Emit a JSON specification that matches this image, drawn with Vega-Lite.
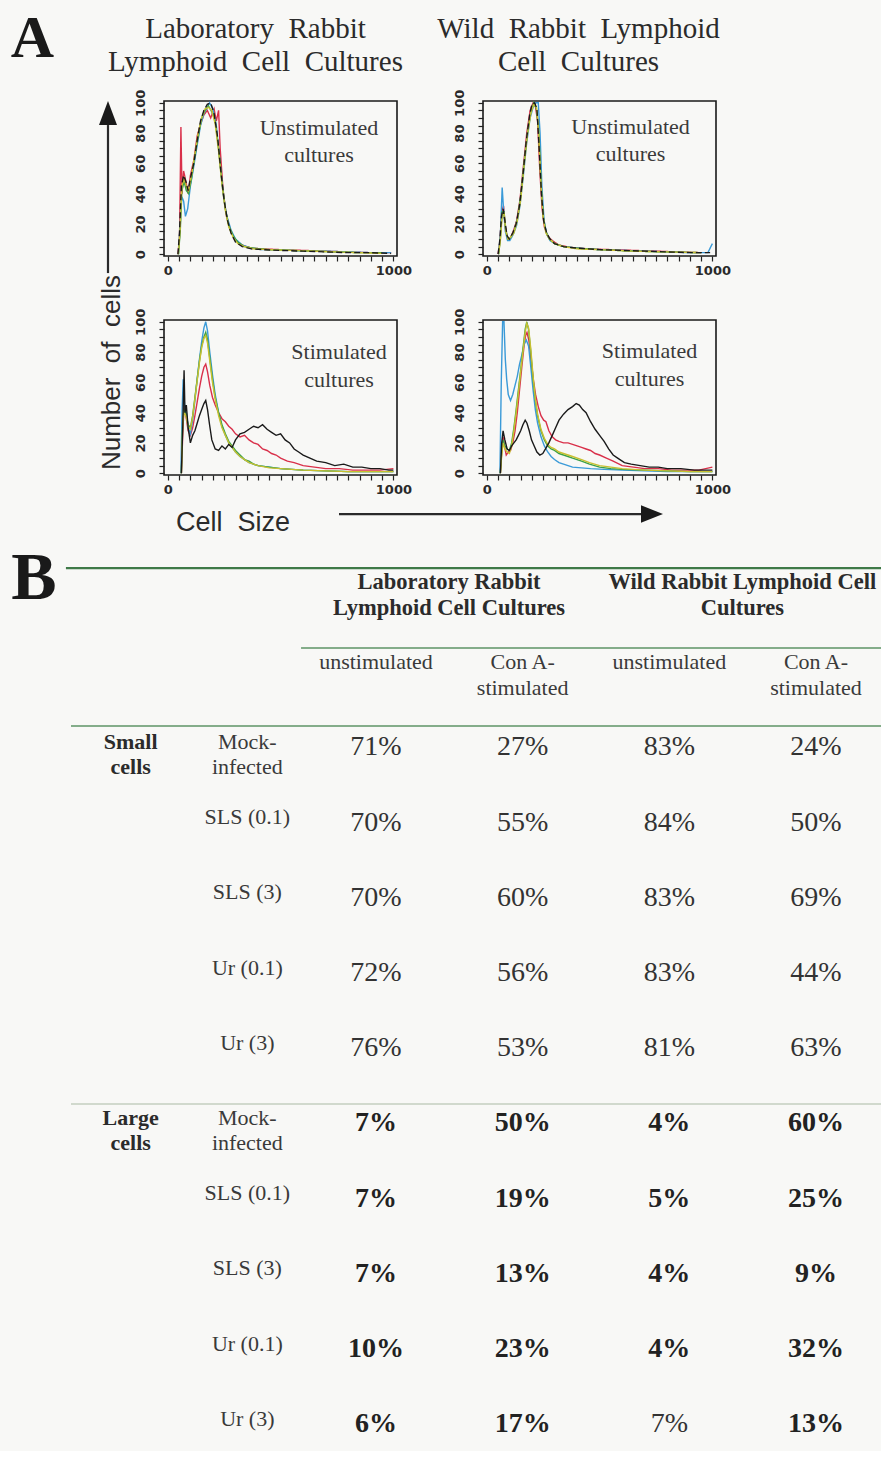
{
"$schema": "https://vega.github.io/schema/vega-lite/v6.json",
"background": "#f8f8f6",
"padding": {"left": 10, "top": 8, "right": 0, "bottom": 0},
"columns": 2,
"spacing": {"row": 64, "column": 86},
"bounds": "flush",
"config": {
  "view": {"stroke": "#1a1a1a", "strokeWidth": 1.6},
  "axis": {"grid": false, "domain": false, "tickColor": "#222", "tickWidth": 1.2, "tickSize": 5, "labelFont": "DejaVu Sans", "labelFontSize": 13, "labelFontWeight": "bold", "labelColor": "#2a2a2a"},
  "text": {"font": "Liberation Serif", "color": "#2b2b2b"}
},
"datasets": {
"h": [
{"p":"TL","s":"A","x":45,"y":0},{"p":"TL","s":"A","x":52,"y":12},{"p":"TL","s":"A","x":58,"y":84},{"p":"TL","s":"A","x":63,"y":40},{"p":"TL","s":"A","x":70,"y":55},{"p":"TL","s":"A","x":80,"y":48},{"p":"TL","s":"A","x":90,"y":40},{"p":"TL","s":"A","x":100,"y":52},{"p":"TL","s":"A","x":115,"y":62},{"p":"TL","s":"A","x":130,"y":78},{"p":"TL","s":"A","x":145,"y":86},{"p":"TL","s":"A","x":160,"y":92},{"p":"TL","s":"A","x":175,"y":95},{"p":"TL","s":"A","x":190,"y":90},{"p":"TL","s":"A","x":205,"y":96},{"p":"TL","s":"A","x":215,"y":88},{"p":"TL","s":"A","x":225,"y":95},{"p":"TL","s":"A","x":232,"y":70},{"p":"TL","s":"A","x":245,"y":42},{"p":"TL","s":"A","x":260,"y":25},{"p":"TL","s":"A","x":280,"y":15},{"p":"TL","s":"A","x":300,"y":9},{"p":"TL","s":"A","x":330,"y":6},{"p":"TL","s":"A","x":370,"y":4},{"p":"TL","s":"A","x":420,"y":3.5},{"p":"TL","s":"A","x":500,"y":3},{"p":"TL","s":"A","x":600,"y":2.5},{"p":"TL","s":"A","x":700,"y":2},{"p":"TL","s":"A","x":800,"y":1.5},{"p":"TL","s":"A","x":900,"y":1},{"p":"TL","s":"A","x":990,"y":1},
{"p":"TL","s":"B","x":47,"y":0},{"p":"TL","s":"B","x":55,"y":20},{"p":"TL","s":"B","x":62,"y":38},{"p":"TL","s":"B","x":70,"y":35},{"p":"TL","s":"B","x":78,"y":25},{"p":"TL","s":"B","x":88,"y":30},{"p":"TL","s":"B","x":100,"y":45},{"p":"TL","s":"B","x":115,"y":58},{"p":"TL","s":"B","x":130,"y":72},{"p":"TL","s":"B","x":145,"y":85},{"p":"TL","s":"B","x":160,"y":93},{"p":"TL","s":"B","x":175,"y":97},{"p":"TL","s":"B","x":185,"y":100},{"p":"TL","s":"B","x":200,"y":96},{"p":"TL","s":"B","x":215,"y":85},{"p":"TL","s":"B","x":230,"y":62},{"p":"TL","s":"B","x":245,"y":40},{"p":"TL","s":"B","x":260,"y":26},{"p":"TL","s":"B","x":280,"y":16},{"p":"TL","s":"B","x":300,"y":10},{"p":"TL","s":"B","x":330,"y":6},{"p":"TL","s":"B","x":370,"y":4},{"p":"TL","s":"B","x":420,"y":3},{"p":"TL","s":"B","x":500,"y":3},{"p":"TL","s":"B","x":600,"y":2},{"p":"TL","s":"B","x":700,"y":2},{"p":"TL","s":"B","x":800,"y":1.5},{"p":"TL","s":"B","x":900,"y":1},{"p":"TL","s":"B","x":990,"y":1},
{"p":"TL","s":"C","x":47,"y":0},{"p":"TL","s":"C","x":55,"y":15},{"p":"TL","s":"C","x":62,"y":42},{"p":"TL","s":"C","x":72,"y":48},{"p":"TL","s":"C","x":82,"y":42},{"p":"TL","s":"C","x":92,"y":40},{"p":"TL","s":"C","x":105,"y":50},{"p":"TL","s":"C","x":120,"y":65},{"p":"TL","s":"C","x":135,"y":78},{"p":"TL","s":"C","x":150,"y":90},{"p":"TL","s":"C","x":165,"y":95},{"p":"TL","s":"C","x":180,"y":98},{"p":"TL","s":"C","x":195,"y":94},{"p":"TL","s":"C","x":210,"y":88},{"p":"TL","s":"C","x":225,"y":70},{"p":"TL","s":"C","x":240,"y":48},{"p":"TL","s":"C","x":255,"y":30},{"p":"TL","s":"C","x":270,"y":19},{"p":"TL","s":"C","x":290,"y":12},{"p":"TL","s":"C","x":310,"y":8},{"p":"TL","s":"C","x":340,"y":5},{"p":"TL","s":"C","x":380,"y":4},{"p":"TL","s":"C","x":450,"y":3},{"p":"TL","s":"C","x":550,"y":2.5},{"p":"TL","s":"C","x":650,"y":2},{"p":"TL","s":"C","x":750,"y":1.5},{"p":"TL","s":"C","x":850,"y":1},{"p":"TL","s":"C","x":950,"y":1},
{"p":"TL","s":"D","x":47,"y":0},{"p":"TL","s":"D","x":55,"y":18},{"p":"TL","s":"D","x":62,"y":45},{"p":"TL","s":"D","x":72,"y":50},{"p":"TL","s":"D","x":82,"y":45},{"p":"TL","s":"D","x":92,"y":42},{"p":"TL","s":"D","x":105,"y":52},{"p":"TL","s":"D","x":120,"y":66},{"p":"TL","s":"D","x":135,"y":80},{"p":"TL","s":"D","x":150,"y":90},{"p":"TL","s":"D","x":165,"y":96},{"p":"TL","s":"D","x":180,"y":97},{"p":"TL","s":"D","x":195,"y":95},{"p":"TL","s":"D","x":210,"y":86},{"p":"TL","s":"D","x":225,"y":68},{"p":"TL","s":"D","x":240,"y":46},{"p":"TL","s":"D","x":255,"y":29},{"p":"TL","s":"D","x":270,"y":18},{"p":"TL","s":"D","x":290,"y":11},{"p":"TL","s":"D","x":310,"y":7},{"p":"TL","s":"D","x":340,"y":5},{"p":"TL","s":"D","x":380,"y":3.5},{"p":"TL","s":"D","x":450,"y":3},{"p":"TL","s":"D","x":550,"y":2.5},{"p":"TL","s":"D","x":650,"y":2},{"p":"TL","s":"D","x":750,"y":1.5},{"p":"TL","s":"D","x":850,"y":1},{"p":"TL","s":"D","x":950,"y":0.5},
{"p":"TL","s":"M","x":45,"y":0},{"p":"TL","s":"M","x":52,"y":15},{"p":"TL","s":"M","x":60,"y":45},{"p":"TL","s":"M","x":70,"y":52},{"p":"TL","s":"M","x":80,"y":48},{"p":"TL","s":"M","x":90,"y":42},{"p":"TL","s":"M","x":100,"y":50},{"p":"TL","s":"M","x":115,"y":60},{"p":"TL","s":"M","x":130,"y":75},{"p":"TL","s":"M","x":145,"y":88},{"p":"TL","s":"M","x":160,"y":95},{"p":"TL","s":"M","x":175,"y":99},{"p":"TL","s":"M","x":190,"y":100},{"p":"TL","s":"M","x":205,"y":93},{"p":"TL","s":"M","x":220,"y":78},{"p":"TL","s":"M","x":235,"y":55},{"p":"TL","s":"M","x":250,"y":35},{"p":"TL","s":"M","x":265,"y":22},{"p":"TL","s":"M","x":280,"y":14},{"p":"TL","s":"M","x":300,"y":8},{"p":"TL","s":"M","x":330,"y":5},{"p":"TL","s":"M","x":370,"y":3.5},{"p":"TL","s":"M","x":420,"y":3},{"p":"TL","s":"M","x":500,"y":2.5},{"p":"TL","s":"M","x":600,"y":2},{"p":"TL","s":"M","x":700,"y":1.5},{"p":"TL","s":"M","x":800,"y":1},{"p":"TL","s":"M","x":900,"y":1},{"p":"TL","s":"M","x":990,"y":0.5},

{"p":"TR","s":"A","x":50,"y":0},{"p":"TR","s":"A","x":58,"y":8},{"p":"TR","s":"A","x":66,"y":28},{"p":"TR","s":"A","x":74,"y":32},{"p":"TR","s":"A","x":82,"y":18},{"p":"TR","s":"A","x":92,"y":10},{"p":"TR","s":"A","x":102,"y":10},{"p":"TR","s":"A","x":117,"y":15},{"p":"TR","s":"A","x":132,"y":22},{"p":"TR","s":"A","x":147,"y":36},{"p":"TR","s":"A","x":162,"y":58},{"p":"TR","s":"A","x":177,"y":80},{"p":"TR","s":"A","x":192,"y":95},{"p":"TR","s":"A","x":205,"y":100},{"p":"TR","s":"A","x":215,"y":98},{"p":"TR","s":"A","x":225,"y":88},{"p":"TR","s":"A","x":235,"y":55},{"p":"TR","s":"A","x":245,"y":30},{"p":"TR","s":"A","x":255,"y":18},{"p":"TR","s":"A","x":270,"y":12},{"p":"TR","s":"A","x":290,"y":9},{"p":"TR","s":"A","x":320,"y":6},{"p":"TR","s":"A","x":370,"y":4.5},{"p":"TR","s":"A","x":450,"y":3.5},{"p":"TR","s":"A","x":550,"y":3},{"p":"TR","s":"A","x":650,"y":2.5},{"p":"TR","s":"A","x":750,"y":2},{"p":"TR","s":"A","x":850,"y":1.5},{"p":"TR","s":"A","x":950,"y":1},
{"p":"TR","s":"B","x":52,"y":0},{"p":"TR","s":"B","x":60,"y":12},{"p":"TR","s":"B","x":68,"y":44},{"p":"TR","s":"B","x":74,"y":30},{"p":"TR","s":"B","x":82,"y":15},{"p":"TR","s":"B","x":92,"y":9},{"p":"TR","s":"B","x":102,"y":9},{"p":"TR","s":"B","x":117,"y":13},{"p":"TR","s":"B","x":132,"y":19},{"p":"TR","s":"B","x":147,"y":32},{"p":"TR","s":"B","x":162,"y":52},{"p":"TR","s":"B","x":177,"y":74},{"p":"TR","s":"B","x":192,"y":90},{"p":"TR","s":"B","x":205,"y":97},{"p":"TR","s":"B","x":218,"y":100},{"p":"TR","s":"B","x":228,"y":100},{"p":"TR","s":"B","x":236,"y":80},{"p":"TR","s":"B","x":244,"y":45},{"p":"TR","s":"B","x":254,"y":22},{"p":"TR","s":"B","x":266,"y":13},{"p":"TR","s":"B","x":280,"y":9},{"p":"TR","s":"B","x":300,"y":7},{"p":"TR","s":"B","x":340,"y":5},{"p":"TR","s":"B","x":400,"y":4},{"p":"TR","s":"B","x":500,"y":3},{"p":"TR","s":"B","x":600,"y":2.5},{"p":"TR","s":"B","x":700,"y":2},{"p":"TR","s":"B","x":800,"y":1.5},{"p":"TR","s":"B","x":900,"y":1},{"p":"TR","s":"B","x":980,"y":1},{"p":"TR","s":"B","x":1000,"y":7},
{"p":"TR","s":"C","x":52,"y":0},{"p":"TR","s":"C","x":60,"y":10},{"p":"TR","s":"C","x":68,"y":28},{"p":"TR","s":"C","x":76,"y":28},{"p":"TR","s":"C","x":84,"y":16},{"p":"TR","s":"C","x":94,"y":10},{"p":"TR","s":"C","x":105,"y":11},{"p":"TR","s":"C","x":120,"y":15},{"p":"TR","s":"C","x":135,"y":23},{"p":"TR","s":"C","x":150,"y":38},{"p":"TR","s":"C","x":165,"y":60},{"p":"TR","s":"C","x":180,"y":80},{"p":"TR","s":"C","x":195,"y":94},{"p":"TR","s":"C","x":208,"y":100},{"p":"TR","s":"C","x":220,"y":96},{"p":"TR","s":"C","x":230,"y":82},{"p":"TR","s":"C","x":240,"y":48},{"p":"TR","s":"C","x":250,"y":25},{"p":"TR","s":"C","x":262,"y":15},{"p":"TR","s":"C","x":278,"y":10},{"p":"TR","s":"C","x":300,"y":7},{"p":"TR","s":"C","x":340,"y":5},{"p":"TR","s":"C","x":400,"y":4},{"p":"TR","s":"C","x":500,"y":3},{"p":"TR","s":"C","x":650,"y":2},{"p":"TR","s":"C","x":800,"y":1.5},{"p":"TR","s":"C","x":950,"y":1},
{"p":"TR","s":"D","x":52,"y":0},{"p":"TR","s":"D","x":60,"y":9},{"p":"TR","s":"D","x":68,"y":26},{"p":"TR","s":"D","x":76,"y":27},{"p":"TR","s":"D","x":84,"y":15},{"p":"TR","s":"D","x":94,"y":10},{"p":"TR","s":"D","x":105,"y":11},{"p":"TR","s":"D","x":120,"y":14},{"p":"TR","s":"D","x":135,"y":22},{"p":"TR","s":"D","x":150,"y":36},{"p":"TR","s":"D","x":165,"y":58},{"p":"TR","s":"D","x":180,"y":79},{"p":"TR","s":"D","x":195,"y":93},{"p":"TR","s":"D","x":208,"y":99},{"p":"TR","s":"D","x":220,"y":97},{"p":"TR","s":"D","x":230,"y":80},{"p":"TR","s":"D","x":240,"y":46},{"p":"TR","s":"D","x":250,"y":24},{"p":"TR","s":"D","x":262,"y":14},{"p":"TR","s":"D","x":278,"y":10},{"p":"TR","s":"D","x":300,"y":7},{"p":"TR","s":"D","x":340,"y":5},{"p":"TR","s":"D","x":400,"y":3.5},{"p":"TR","s":"D","x":500,"y":3},{"p":"TR","s":"D","x":650,"y":2},{"p":"TR","s":"D","x":800,"y":1.5},{"p":"TR","s":"D","x":950,"y":1},
{"p":"TR","s":"M","x":50,"y":0},{"p":"TR","s":"M","x":58,"y":10},{"p":"TR","s":"M","x":65,"y":25},{"p":"TR","s":"M","x":72,"y":30},{"p":"TR","s":"M","x":80,"y":22},{"p":"TR","s":"M","x":90,"y":12},{"p":"TR","s":"M","x":100,"y":10},{"p":"TR","s":"M","x":115,"y":14},{"p":"TR","s":"M","x":130,"y":20},{"p":"TR","s":"M","x":145,"y":32},{"p":"TR","s":"M","x":160,"y":52},{"p":"TR","s":"M","x":175,"y":75},{"p":"TR","s":"M","x":190,"y":92},{"p":"TR","s":"M","x":200,"y":99},{"p":"TR","s":"M","x":212,"y":100},{"p":"TR","s":"M","x":222,"y":96},{"p":"TR","s":"M","x":232,"y":70},{"p":"TR","s":"M","x":242,"y":40},{"p":"TR","s":"M","x":252,"y":22},{"p":"TR","s":"M","x":265,"y":14},{"p":"TR","s":"M","x":280,"y":10},{"p":"TR","s":"M","x":300,"y":7},{"p":"TR","s":"M","x":340,"y":5},{"p":"TR","s":"M","x":400,"y":4},{"p":"TR","s":"M","x":500,"y":3},{"p":"TR","s":"M","x":600,"y":2.5},{"p":"TR","s":"M","x":700,"y":2},{"p":"TR","s":"M","x":800,"y":1.5},{"p":"TR","s":"M","x":900,"y":1},{"p":"TR","s":"M","x":990,"y":1},

{"p":"BL","s":"A","x":60,"y":0},{"p":"BL","s":"A","x":66,"y":25},{"p":"BL","s":"A","x":72,"y":45},{"p":"BL","s":"A","x":80,"y":38},{"p":"BL","s":"A","x":90,"y":28},{"p":"BL","s":"A","x":100,"y":25},{"p":"BL","s":"A","x":110,"y":30},{"p":"BL","s":"A","x":120,"y":38},{"p":"BL","s":"A","x":130,"y":47},{"p":"BL","s":"A","x":140,"y":56},{"p":"BL","s":"A","x":150,"y":64},{"p":"BL","s":"A","x":160,"y":70},{"p":"BL","s":"A","x":168,"y":72},{"p":"BL","s":"A","x":176,"y":67},{"p":"BL","s":"A","x":186,"y":58},{"p":"BL","s":"A","x":198,"y":50},{"p":"BL","s":"A","x":210,"y":45},{"p":"BL","s":"A","x":225,"y":40},{"p":"BL","s":"A","x":240,"y":36},{"p":"BL","s":"A","x":255,"y":34},{"p":"BL","s":"A","x":270,"y":31},{"p":"BL","s":"A","x":285,"y":29},{"p":"BL","s":"A","x":300,"y":26},{"p":"BL","s":"A","x":320,"y":24},{"p":"BL","s":"A","x":340,"y":25},{"p":"BL","s":"A","x":360,"y":22},{"p":"BL","s":"A","x":380,"y":20},{"p":"BL","s":"A","x":400,"y":19},{"p":"BL","s":"A","x":420,"y":16},{"p":"BL","s":"A","x":440,"y":15},{"p":"BL","s":"A","x":460,"y":13},{"p":"BL","s":"A","x":480,"y":12},{"p":"BL","s":"A","x":500,"y":10},{"p":"BL","s":"A","x":530,"y":8},{"p":"BL","s":"A","x":560,"y":7},{"p":"BL","s":"A","x":600,"y":5},{"p":"BL","s":"A","x":650,"y":4},{"p":"BL","s":"A","x":700,"y":3},{"p":"BL","s":"A","x":760,"y":3},{"p":"BL","s":"A","x":820,"y":2},{"p":"BL","s":"A","x":880,"y":2},{"p":"BL","s":"A","x":940,"y":2},{"p":"BL","s":"A","x":1000,"y":3},
{"p":"BL","s":"B","x":58,"y":0},{"p":"BL","s":"B","x":63,"y":40},{"p":"BL","s":"B","x":68,"y":62},{"p":"BL","s":"B","x":74,"y":45},{"p":"BL","s":"B","x":82,"y":40},{"p":"BL","s":"B","x":90,"y":30},{"p":"BL","s":"B","x":100,"y":26},{"p":"BL","s":"B","x":110,"y":35},{"p":"BL","s":"B","x":120,"y":48},{"p":"BL","s":"B","x":130,"y":62},{"p":"BL","s":"B","x":140,"y":75},{"p":"BL","s":"B","x":150,"y":87},{"p":"BL","s":"B","x":160,"y":96},{"p":"BL","s":"B","x":168,"y":100},{"p":"BL","s":"B","x":176,"y":94},{"p":"BL","s":"B","x":186,"y":80},{"p":"BL","s":"B","x":198,"y":65},{"p":"BL","s":"B","x":210,"y":52},{"p":"BL","s":"B","x":225,"y":40},{"p":"BL","s":"B","x":240,"y":31},{"p":"BL","s":"B","x":255,"y":25},{"p":"BL","s":"B","x":270,"y":20},{"p":"BL","s":"B","x":285,"y":17},{"p":"BL","s":"B","x":300,"y":14},{"p":"BL","s":"B","x":320,"y":11},{"p":"BL","s":"B","x":340,"y":9},{"p":"BL","s":"B","x":360,"y":7},{"p":"BL","s":"B","x":380,"y":6},{"p":"BL","s":"B","x":400,"y":5},{"p":"BL","s":"B","x":450,"y":4},{"p":"BL","s":"B","x":500,"y":3},{"p":"BL","s":"B","x":550,"y":2.5},{"p":"BL","s":"B","x":600,"y":2},{"p":"BL","s":"B","x":700,"y":1.5},{"p":"BL","s":"B","x":800,"y":1},{"p":"BL","s":"B","x":900,"y":1},{"p":"BL","s":"B","x":1000,"y":1},
{"p":"BL","s":"C","x":60,"y":0},{"p":"BL","s":"C","x":66,"y":35},{"p":"BL","s":"C","x":72,"y":42},{"p":"BL","s":"C","x":80,"y":40},{"p":"BL","s":"C","x":90,"y":32},{"p":"BL","s":"C","x":100,"y":30},{"p":"BL","s":"C","x":110,"y":38},{"p":"BL","s":"C","x":120,"y":50},{"p":"BL","s":"C","x":130,"y":62},{"p":"BL","s":"C","x":140,"y":74},{"p":"BL","s":"C","x":150,"y":84},{"p":"BL","s":"C","x":160,"y":90},{"p":"BL","s":"C","x":168,"y":93},{"p":"BL","s":"C","x":176,"y":88},{"p":"BL","s":"C","x":186,"y":76},{"p":"BL","s":"C","x":198,"y":62},{"p":"BL","s":"C","x":210,"y":50},{"p":"BL","s":"C","x":225,"y":40},{"p":"BL","s":"C","x":240,"y":32},{"p":"BL","s":"C","x":255,"y":26},{"p":"BL","s":"C","x":270,"y":21},{"p":"BL","s":"C","x":285,"y":18},{"p":"BL","s":"C","x":300,"y":15},{"p":"BL","s":"C","x":320,"y":12},{"p":"BL","s":"C","x":340,"y":9},{"p":"BL","s":"C","x":360,"y":8},{"p":"BL","s":"C","x":380,"y":6},{"p":"BL","s":"C","x":400,"y":5},{"p":"BL","s":"C","x":450,"y":4},{"p":"BL","s":"C","x":500,"y":3},{"p":"BL","s":"C","x":550,"y":2.5},{"p":"BL","s":"C","x":600,"y":2},{"p":"BL","s":"C","x":700,"y":1.5},{"p":"BL","s":"C","x":800,"y":1},{"p":"BL","s":"C","x":900,"y":1},{"p":"BL","s":"C","x":1000,"y":1},
{"p":"BL","s":"D","x":60,"y":0},{"p":"BL","s":"D","x":66,"y":33},{"p":"BL","s":"D","x":72,"y":40},{"p":"BL","s":"D","x":80,"y":38},{"p":"BL","s":"D","x":90,"y":31},{"p":"BL","s":"D","x":100,"y":29},{"p":"BL","s":"D","x":110,"y":37},{"p":"BL","s":"D","x":120,"y":49},{"p":"BL","s":"D","x":130,"y":61},{"p":"BL","s":"D","x":140,"y":73},{"p":"BL","s":"D","x":150,"y":83},{"p":"BL","s":"D","x":160,"y":89},{"p":"BL","s":"D","x":168,"y":91},{"p":"BL","s":"D","x":176,"y":86},{"p":"BL","s":"D","x":186,"y":74},{"p":"BL","s":"D","x":198,"y":60},{"p":"BL","s":"D","x":210,"y":49},{"p":"BL","s":"D","x":225,"y":38},{"p":"BL","s":"D","x":240,"y":30},{"p":"BL","s":"D","x":255,"y":25},{"p":"BL","s":"D","x":270,"y":20},{"p":"BL","s":"D","x":285,"y":17},{"p":"BL","s":"D","x":300,"y":14},{"p":"BL","s":"D","x":320,"y":11},{"p":"BL","s":"D","x":340,"y":9},{"p":"BL","s":"D","x":360,"y":7},{"p":"BL","s":"D","x":380,"y":6},{"p":"BL","s":"D","x":400,"y":5},{"p":"BL","s":"D","x":450,"y":3.5},{"p":"BL","s":"D","x":500,"y":3},{"p":"BL","s":"D","x":550,"y":2.5},{"p":"BL","s":"D","x":600,"y":2},{"p":"BL","s":"D","x":700,"y":1.5},{"p":"BL","s":"D","x":800,"y":1},{"p":"BL","s":"D","x":900,"y":1},{"p":"BL","s":"D","x":1000,"y":1},
{"p":"BL","s":"M","x":60,"y":0},{"p":"BL","s":"M","x":66,"y":30},{"p":"BL","s":"M","x":72,"y":68},{"p":"BL","s":"M","x":76,"y":40},{"p":"BL","s":"M","x":82,"y":45},{"p":"BL","s":"M","x":90,"y":30},{"p":"BL","s":"M","x":100,"y":20},{"p":"BL","s":"M","x":110,"y":25},{"p":"BL","s":"M","x":120,"y":28},{"p":"BL","s":"M","x":130,"y":33},{"p":"BL","s":"M","x":140,"y":38},{"p":"BL","s":"M","x":150,"y":42},{"p":"BL","s":"M","x":160,"y":46},{"p":"BL","s":"M","x":168,"y":48},{"p":"BL","s":"M","x":176,"y":42},{"p":"BL","s":"M","x":185,"y":32},{"p":"BL","s":"M","x":195,"y":22},{"p":"BL","s":"M","x":210,"y":16},{"p":"BL","s":"M","x":225,"y":15},{"p":"BL","s":"M","x":240,"y":18},{"p":"BL","s":"M","x":255,"y":16},{"p":"BL","s":"M","x":270,"y":19},{"p":"BL","s":"M","x":285,"y":17},{"p":"BL","s":"M","x":300,"y":22},{"p":"BL","s":"M","x":320,"y":26},{"p":"BL","s":"M","x":340,"y":27},{"p":"BL","s":"M","x":360,"y":29},{"p":"BL","s":"M","x":380,"y":31},{"p":"BL","s":"M","x":400,"y":30},{"p":"BL","s":"M","x":420,"y":32},{"p":"BL","s":"M","x":440,"y":29},{"p":"BL","s":"M","x":460,"y":27},{"p":"BL","s":"M","x":480,"y":25},{"p":"BL","s":"M","x":500,"y":26},{"p":"BL","s":"M","x":520,"y":22},{"p":"BL","s":"M","x":540,"y":20},{"p":"BL","s":"M","x":560,"y":16},{"p":"BL","s":"M","x":580,"y":14},{"p":"BL","s":"M","x":600,"y":12},{"p":"BL","s":"M","x":630,"y":10},{"p":"BL","s":"M","x":660,"y":8},{"p":"BL","s":"M","x":700,"y":7},{"p":"BL","s":"M","x":740,"y":5},{"p":"BL","s":"M","x":780,"y":6},{"p":"BL","s":"M","x":820,"y":4},{"p":"BL","s":"M","x":860,"y":4},{"p":"BL","s":"M","x":900,"y":3},{"p":"BL","s":"M","x":940,"y":3},{"p":"BL","s":"M","x":980,"y":2},{"p":"BL","s":"M","x":1000,"y":2},

{"p":"BR","s":"A","x":60,"y":0},{"p":"BR","s":"A","x":66,"y":14},{"p":"BR","s":"A","x":72,"y":24},{"p":"BR","s":"A","x":78,"y":18},{"p":"BR","s":"A","x":86,"y":12},{"p":"BR","s":"A","x":95,"y":14},{"p":"BR","s":"A","x":105,"y":15},{"p":"BR","s":"A","x":115,"y":20},{"p":"BR","s":"A","x":125,"y":28},{"p":"BR","s":"A","x":135,"y":40},{"p":"BR","s":"A","x":145,"y":55},{"p":"BR","s":"A","x":155,"y":70},{"p":"BR","s":"A","x":165,"y":84},{"p":"BR","s":"A","x":172,"y":91},{"p":"BR","s":"A","x":178,"y":93},{"p":"BR","s":"A","x":186,"y":88},{"p":"BR","s":"A","x":196,"y":75},{"p":"BR","s":"A","x":206,"y":62},{"p":"BR","s":"A","x":216,"y":52},{"p":"BR","s":"A","x":228,"y":44},{"p":"BR","s":"A","x":240,"y":38},{"p":"BR","s":"A","x":252,"y":35},{"p":"BR","s":"A","x":262,"y":34},{"p":"BR","s":"A","x":275,"y":28},{"p":"BR","s":"A","x":290,"y":24},{"p":"BR","s":"A","x":305,"y":22},{"p":"BR","s":"A","x":320,"y":21},{"p":"BR","s":"A","x":340,"y":20},{"p":"BR","s":"A","x":360,"y":20},{"p":"BR","s":"A","x":380,"y":19},{"p":"BR","s":"A","x":400,"y":18},{"p":"BR","s":"A","x":420,"y":17},{"p":"BR","s":"A","x":440,"y":16},{"p":"BR","s":"A","x":460,"y":15},{"p":"BR","s":"A","x":480,"y":13},{"p":"BR","s":"A","x":500,"y":12},{"p":"BR","s":"A","x":530,"y":10},{"p":"BR","s":"A","x":560,"y":8},{"p":"BR","s":"A","x":600,"y":5},{"p":"BR","s":"A","x":650,"y":4},{"p":"BR","s":"A","x":700,"y":3},{"p":"BR","s":"A","x":760,"y":3},{"p":"BR","s":"A","x":820,"y":2},{"p":"BR","s":"A","x":880,"y":2},{"p":"BR","s":"A","x":940,"y":2},{"p":"BR","s":"A","x":1000,"y":4},
{"p":"BR","s":"B","x":58,"y":0},{"p":"BR","s":"B","x":64,"y":60},{"p":"BR","s":"B","x":70,"y":100},{"p":"BR","s":"B","x":76,"y":100},{"p":"BR","s":"B","x":82,"y":75},{"p":"BR","s":"B","x":88,"y":62},{"p":"BR","s":"B","x":95,"y":52},{"p":"BR","s":"B","x":105,"y":48},{"p":"BR","s":"B","x":115,"y":52},{"p":"BR","s":"B","x":125,"y":58},{"p":"BR","s":"B","x":135,"y":64},{"p":"BR","s":"B","x":145,"y":72},{"p":"BR","s":"B","x":155,"y":78},{"p":"BR","s":"B","x":165,"y":85},{"p":"BR","s":"B","x":175,"y":88},{"p":"BR","s":"B","x":185,"y":84},{"p":"BR","s":"B","x":195,"y":70},{"p":"BR","s":"B","x":205,"y":55},{"p":"BR","s":"B","x":215,"y":42},{"p":"BR","s":"B","x":225,"y":33},{"p":"BR","s":"B","x":240,"y":24},{"p":"BR","s":"B","x":255,"y":18},{"p":"BR","s":"B","x":270,"y":14},{"p":"BR","s":"B","x":285,"y":11},{"p":"BR","s":"B","x":300,"y":9},{"p":"BR","s":"B","x":320,"y":7},{"p":"BR","s":"B","x":340,"y":6},{"p":"BR","s":"B","x":360,"y":5},{"p":"BR","s":"B","x":380,"y":4},{"p":"BR","s":"B","x":420,"y":3.5},{"p":"BR","s":"B","x":460,"y":3},{"p":"BR","s":"B","x":520,"y":2.5},{"p":"BR","s":"B","x":600,"y":2},{"p":"BR","s":"B","x":700,"y":1.5},{"p":"BR","s":"B","x":800,"y":1},{"p":"BR","s":"B","x":900,"y":1},{"p":"BR","s":"B","x":1000,"y":1},
{"p":"BR","s":"C","x":60,"y":0},{"p":"BR","s":"C","x":66,"y":15},{"p":"BR","s":"C","x":72,"y":22},{"p":"BR","s":"C","x":80,"y":18},{"p":"BR","s":"C","x":90,"y":16},{"p":"BR","s":"C","x":100,"y":15},{"p":"BR","s":"C","x":110,"y":20},{"p":"BR","s":"C","x":120,"y":30},{"p":"BR","s":"C","x":130,"y":42},{"p":"BR","s":"C","x":140,"y":55},{"p":"BR","s":"C","x":150,"y":68},{"p":"BR","s":"C","x":160,"y":82},{"p":"BR","s":"C","x":170,"y":95},{"p":"BR","s":"C","x":177,"y":100},{"p":"BR","s":"C","x":185,"y":95},{"p":"BR","s":"C","x":195,"y":80},{"p":"BR","s":"C","x":205,"y":62},{"p":"BR","s":"C","x":215,"y":48},{"p":"BR","s":"C","x":225,"y":38},{"p":"BR","s":"C","x":240,"y":28},{"p":"BR","s":"C","x":255,"y":22},{"p":"BR","s":"C","x":270,"y":18},{"p":"BR","s":"C","x":285,"y":16},{"p":"BR","s":"C","x":300,"y":15},{"p":"BR","s":"C","x":320,"y":13},{"p":"BR","s":"C","x":340,"y":12},{"p":"BR","s":"C","x":360,"y":11},{"p":"BR","s":"C","x":380,"y":10},{"p":"BR","s":"C","x":420,"y":8},{"p":"BR","s":"C","x":455,"y":6},{"p":"BR","s":"C","x":500,"y":4},{"p":"BR","s":"C","x":550,"y":3},{"p":"BR","s":"C","x":600,"y":2.5},{"p":"BR","s":"C","x":700,"y":2},{"p":"BR","s":"C","x":800,"y":1.5},{"p":"BR","s":"C","x":900,"y":1},{"p":"BR","s":"C","x":1000,"y":1},
{"p":"BR","s":"D","x":60,"y":0},{"p":"BR","s":"D","x":66,"y":12},{"p":"BR","s":"D","x":72,"y":20},{"p":"BR","s":"D","x":80,"y":16},{"p":"BR","s":"D","x":90,"y":14},{"p":"BR","s":"D","x":100,"y":13},{"p":"BR","s":"D","x":110,"y":18},{"p":"BR","s":"D","x":120,"y":28},{"p":"BR","s":"D","x":130,"y":40},{"p":"BR","s":"D","x":140,"y":53},{"p":"BR","s":"D","x":150,"y":67},{"p":"BR","s":"D","x":160,"y":80},{"p":"BR","s":"D","x":170,"y":93},{"p":"BR","s":"D","x":177,"y":99},{"p":"BR","s":"D","x":185,"y":96},{"p":"BR","s":"D","x":195,"y":82},{"p":"BR","s":"D","x":205,"y":64},{"p":"BR","s":"D","x":215,"y":49},{"p":"BR","s":"D","x":225,"y":39},{"p":"BR","s":"D","x":240,"y":29},{"p":"BR","s":"D","x":255,"y":23},{"p":"BR","s":"D","x":270,"y":19},{"p":"BR","s":"D","x":285,"y":17},{"p":"BR","s":"D","x":300,"y":16},{"p":"BR","s":"D","x":320,"y":14},{"p":"BR","s":"D","x":340,"y":13},{"p":"BR","s":"D","x":360,"y":12},{"p":"BR","s":"D","x":380,"y":11},{"p":"BR","s":"D","x":420,"y":9},{"p":"BR","s":"D","x":455,"y":7},{"p":"BR","s":"D","x":500,"y":5},{"p":"BR","s":"D","x":550,"y":4},{"p":"BR","s":"D","x":600,"y":3},{"p":"BR","s":"D","x":700,"y":2},{"p":"BR","s":"D","x":800,"y":1.5},{"p":"BR","s":"D","x":900,"y":1},{"p":"BR","s":"D","x":1000,"y":1},
{"p":"BR","s":"M","x":60,"y":0},{"p":"BR","s":"M","x":66,"y":20},{"p":"BR","s":"M","x":72,"y":28},{"p":"BR","s":"M","x":80,"y":22},{"p":"BR","s":"M","x":90,"y":16},{"p":"BR","s":"M","x":100,"y":15},{"p":"BR","s":"M","x":110,"y":18},{"p":"BR","s":"M","x":120,"y":20},{"p":"BR","s":"M","x":130,"y":22},{"p":"BR","s":"M","x":140,"y":25},{"p":"BR","s":"M","x":150,"y":28},{"p":"BR","s":"M","x":160,"y":32},{"p":"BR","s":"M","x":170,"y":35},{"p":"BR","s":"M","x":178,"y":33},{"p":"BR","s":"M","x":188,"y":28},{"p":"BR","s":"M","x":198,"y":22},{"p":"BR","s":"M","x":210,"y":18},{"p":"BR","s":"M","x":222,"y":14},{"p":"BR","s":"M","x":235,"y":12},{"p":"BR","s":"M","x":248,"y":13},{"p":"BR","s":"M","x":260,"y":16},{"p":"BR","s":"M","x":275,"y":20},{"p":"BR","s":"M","x":290,"y":25},{"p":"BR","s":"M","x":305,"y":30},{"p":"BR","s":"M","x":320,"y":35},{"p":"BR","s":"M","x":340,"y":39},{"p":"BR","s":"M","x":360,"y":42},{"p":"BR","s":"M","x":380,"y":44},{"p":"BR","s":"M","x":396,"y":46},{"p":"BR","s":"M","x":410,"y":45},{"p":"BR","s":"M","x":425,"y":42},{"p":"BR","s":"M","x":440,"y":40},{"p":"BR","s":"M","x":460,"y":34},{"p":"BR","s":"M","x":480,"y":29},{"p":"BR","s":"M","x":500,"y":25},{"p":"BR","s":"M","x":520,"y":21},{"p":"BR","s":"M","x":540,"y":16},{"p":"BR","s":"M","x":560,"y":12},{"p":"BR","s":"M","x":580,"y":10},{"p":"BR","s":"M","x":610,"y":7},{"p":"BR","s":"M","x":640,"y":6},{"p":"BR","s":"M","x":680,"y":5},{"p":"BR","s":"M","x":720,"y":4},{"p":"BR","s":"M","x":760,"y":4},{"p":"BR","s":"M","x":800,"y":3},{"p":"BR","s":"M","x":860,"y":3},{"p":"BR","s":"M","x":920,"y":2},{"p":"BR","s":"M","x":960,"y":2},{"p":"BR","s":"M","x":1000,"y":2}
],
"tv": [
{"r":0,"c":2,"v":"71%","em":0},{"r":0,"c":3,"v":"27%","em":0},{"r":0,"c":4,"v":"83%","em":0},{"r":0,"c":5,"v":"24%","em":0},
{"r":1,"c":2,"v":"70%","em":0},{"r":1,"c":3,"v":"55%","em":0},{"r":1,"c":4,"v":"84%","em":0},{"r":1,"c":5,"v":"50%","em":0},
{"r":2,"c":2,"v":"70%","em":0},{"r":2,"c":3,"v":"60%","em":0},{"r":2,"c":4,"v":"83%","em":0},{"r":2,"c":5,"v":"69%","em":0},
{"r":3,"c":2,"v":"72%","em":0},{"r":3,"c":3,"v":"56%","em":0},{"r":3,"c":4,"v":"83%","em":0},{"r":3,"c":5,"v":"44%","em":0},
{"r":4,"c":2,"v":"76%","em":0},{"r":4,"c":3,"v":"53%","em":0},{"r":4,"c":4,"v":"81%","em":0},{"r":4,"c":5,"v":"63%","em":0},
{"r":5,"c":2,"v":"7%","em":1},{"r":5,"c":3,"v":"50%","em":1},{"r":5,"c":4,"v":"4%","em":1},{"r":5,"c":5,"v":"60%","em":1},
{"r":6,"c":2,"v":"7%","em":1},{"r":6,"c":3,"v":"19%","em":1},{"r":6,"c":4,"v":"5%","em":1},{"r":6,"c":5,"v":"25%","em":1},
{"r":7,"c":2,"v":"7%","em":1},{"r":7,"c":3,"v":"13%","em":1},{"r":7,"c":4,"v":"4%","em":1},{"r":7,"c":5,"v":"9%","em":1},
{"r":8,"c":2,"v":"10%","em":1},{"r":8,"c":3,"v":"23%","em":1},{"r":8,"c":4,"v":"4%","em":1},{"r":8,"c":5,"v":"32%","em":1},
{"r":9,"c":2,"v":"6%","em":1},{"r":9,"c":3,"v":"17%","em":1},{"r":9,"c":4,"v":"7%","em":0},{"r":9,"c":5,"v":"13%","em":1}
],
"tl": [
{"r":0,"c":1,"t":"Mock-\ninfected"},{"r":1,"c":1,"t":"SLS (0.1)"},{"r":2,"c":1,"t":"SLS (3)"},{"r":3,"c":1,"t":"Ur (0.1)"},{"r":4,"c":1,"t":"Ur (3)"},
{"r":5,"c":1,"t":"Mock-\ninfected"},{"r":6,"c":1,"t":"SLS (0.1)"},{"r":7,"c":1,"t":"SLS (3)"},{"r":8,"c":1,"t":"Ur (0.1)"},{"r":9,"c":1,"t":"Ur (3)"}
],
"tg": [{"r":0,"c":0,"t":"Small\ncells"},{"r":5,"c":0,"t":"Large\ncells"}],
"hd": [{"r":-2,"c":2,"t":"Laboratory Rabbit\nLymphoid Cell Cultures"},{"r":-2,"c":4,"t":"Wild Rabbit Lymphoid Cell\nCultures"}],
"sh": [{"r":-1,"c":2,"t":"unstimulated"},{"r":-1,"c":3,"t":"Con A-\nstimulated"},{"r":-1,"c":4,"t":"unstimulated"},{"r":-1,"c":5,"t":"Con A-\nstimulated"}]
},
"concat": [
{
 "width": 233, "height": 155,
 "layer": [
  {"data": {"name": "h"}, "transform": [{"filter": "datum.p === 'TL'"}],
   "mark": {"type": "line", "clip": true, "strokeWidth": 1.4},
   "encoding": {
    "x": {"field": "x", "type": "quantitative", "scale": {"domain": [-17, 1016], "nice": false, "zero": false},
          "axis": {"title": null, "format": "d", "values": [0,50,100,150,200,250,300,350,400,450,500,550,600,650,700,750,800,850,900,950,1000], "labelExpr": "datum.value === 0 || datum.value === 1000 ? datum.label : ''", "labelPadding": 3, "labelOverlap": false, "labelFlush": false}},
    "y": {"field": "y", "type": "quantitative", "scale": {"domain": [-1.2, 101.2], "nice": false, "zero": false},
          "axis": {"title": null, "format": "d", "values": [0,5,10,15,20,25,30,35,40,45,50,55,60,65,70,75,80,85,90,95,100], "labelExpr": "datum.value % 20 === 0 ? datum.label : ''", "labelAngle": 270, "labelAlign": "center", "labelBaseline": "middle", "labelPadding": 19, "labelOverlap": false}},
    "color": {"field": "s", "type": "nominal", "scale": {"domain": ["A","B","C","D","M"], "range": ["#d9304a","#3a9ad8","#3aa048","#c8c030","#1a1a1a"]}, "legend": null},
    "strokeDash": {"field": "s", "type": "nominal", "scale": {"domain": ["A","B","C","D","M"], "range": [[1,0],[1,0],[1,0],[1,0],[6,3]]}, "legend": null}
   }},
  {"data": {"values": [{}]}, "mark": {"type": "text", "fontSize": 22, "lineHeight": 27, "align": "center", "baseline": "alphabetic", "color": "#3a3a3a"},
   "encoding": {"x": {"datum": 670, "type": "quantitative", "axis": {"title": null, "format": "d", "values": [0,50,100,150,200,250,300,350,400,450,500,550,600,650,700,750,800,850,900,950,1000], "labelExpr": "datum.value === 0 || datum.value === 1000 ? datum.label : ''", "labelPadding": 3, "labelOverlap": false, "labelFlush": false}},
                "y": {"datum": 78.7, "type": "quantitative", "axis": {"title": null, "format": "d", "values": [0,5,10,15,20,25,30,35,40,45,50,55,60,65,70,75,80,85,90,95,100], "labelExpr": "datum.value % 20 === 0 ? datum.label : ''", "labelAngle": 270, "labelAlign": "center", "labelBaseline": "middle", "labelPadding": 19, "labelOverlap": false}},
                "text": {"value": ["Unstimulated", "cultures"]}}},
  {"data": {"values": [{}]}, "mark": {"type": "text", "fontSize": 29, "lineHeight": 33, "align": "center", "baseline": "alphabetic", "color": "#2b2b2b"},
   "encoding": {"x": {"datum": 388.7, "type": "quantitative", "axis": {"title": null, "format": "d", "values": [0,50,100,150,200,250,300,350,400,450,500,550,600,650,700,750,800,850,900,950,1000], "labelExpr": "datum.value === 0 || datum.value === 1000 ? datum.label : ''", "labelPadding": 3, "labelOverlap": false, "labelFlush": false}},
                "y": {"datum": 142.8, "type": "quantitative", "axis": {"title": null, "format": "d", "values": [0,5,10,15,20,25,30,35,40,45,50,55,60,65,70,75,80,85,90,95,100], "labelExpr": "datum.value % 20 === 0 ? datum.label : ''", "labelAngle": 270, "labelAlign": "center", "labelBaseline": "middle", "labelPadding": 19, "labelOverlap": false}},
                "text": {"value": ["Laboratory\u00a0 Rabbit", "Lymphoid\u00a0 Cell\u00a0 Cultures"]}}},
  {"data": {"values": [{}]}, "mark": {"type": "text", "fontSize": 60, "fontWeight": "bold", "align": "center", "baseline": "alphabetic", "color": "#1a1a1a"},
   "encoding": {"x": {"datum": -600, "type": "quantitative", "axis": {"title": null, "format": "d", "values": [0,50,100,150,200,250,300,350,400,450,500,550,600,650,700,750,800,850,900,950,1000], "labelExpr": "datum.value === 0 || datum.value === 1000 ? datum.label : ''", "labelPadding": 3, "labelOverlap": false, "labelFlush": false}},
                "y": {"datum": 130.3, "type": "quantitative", "axis": {"title": null, "format": "d", "values": [0,5,10,15,20,25,30,35,40,45,50,55,60,65,70,75,80,85,90,95,100], "labelExpr": "datum.value % 20 === 0 ? datum.label : ''", "labelAngle": 270, "labelAlign": "center", "labelBaseline": "middle", "labelPadding": 19, "labelOverlap": false}},
                "text": {"value": "A"}}}
 ]
},
{
 "width": 233, "height": 155,
 "layer": [
  {"data": {"name": "h"}, "transform": [{"filter": "datum.p === 'TR'"}],
   "mark": {"type": "line", "clip": true, "strokeWidth": 1.4},
   "encoding": {
    "x": {"field": "x", "type": "quantitative", "scale": {"domain": [-17, 1016], "nice": false, "zero": false},
          "axis": {"title": null, "format": "d", "values": [0,50,100,150,200,250,300,350,400,450,500,550,600,650,700,750,800,850,900,950,1000], "labelExpr": "datum.value === 0 || datum.value === 1000 ? datum.label : ''", "labelPadding": 3, "labelOverlap": false, "labelFlush": false}},
    "y": {"field": "y", "type": "quantitative", "scale": {"domain": [-1.2, 101.2], "nice": false, "zero": false},
          "axis": {"title": null, "format": "d", "values": [0,5,10,15,20,25,30,35,40,45,50,55,60,65,70,75,80,85,90,95,100], "labelExpr": "datum.value % 20 === 0 ? datum.label : ''", "labelAngle": 270, "labelAlign": "center", "labelBaseline": "middle", "labelPadding": 19, "labelOverlap": false}},
    "color": {"field": "s", "type": "nominal", "scale": {"domain": ["A","B","C","D","M"], "range": ["#d9304a","#3a9ad8","#3aa048","#c8c030","#1a1a1a"]}, "legend": null},
    "strokeDash": {"field": "s", "type": "nominal", "scale": {"domain": ["A","B","C","D","M"], "range": [[5,3],[1,0],[1,0],[1,0],[6,3]]}, "legend": null}
   }},
  {"data": {"values": [{}]}, "mark": {"type": "text", "fontSize": 22, "lineHeight": 27, "align": "center", "baseline": "alphabetic", "color": "#3a3a3a"},
   "encoding": {"x": {"datum": 637, "type": "quantitative", "axis": {"title": null, "format": "d", "values": [0,50,100,150,200,250,300,350,400,450,500,550,600,650,700,750,800,850,900,950,1000], "labelExpr": "datum.value === 0 || datum.value === 1000 ? datum.label : ''", "labelPadding": 3, "labelOverlap": false, "labelFlush": false}},
                "y": {"datum": 79.4, "type": "quantitative", "axis": {"title": null, "format": "d", "values": [0,5,10,15,20,25,30,35,40,45,50,55,60,65,70,75,80,85,90,95,100], "labelExpr": "datum.value % 20 === 0 ? datum.label : ''", "labelAngle": 270, "labelAlign": "center", "labelBaseline": "middle", "labelPadding": 19, "labelOverlap": false}},
                "text": {"value": ["Unstimulated", "cultures"]}}},
  {"data": {"values": [{}]}, "mark": {"type": "text", "fontSize": 29, "lineHeight": 33, "align": "center", "baseline": "alphabetic", "color": "#2b2b2b"},
   "encoding": {"x": {"datum": 406.4, "type": "quantitative", "axis": {"title": null, "format": "d", "values": [0,50,100,150,200,250,300,350,400,450,500,550,600,650,700,750,800,850,900,950,1000], "labelExpr": "datum.value === 0 || datum.value === 1000 ? datum.label : ''", "labelPadding": 3, "labelOverlap": false, "labelFlush": false}},
                "y": {"datum": 142.8, "type": "quantitative", "axis": {"title": null, "format": "d", "values": [0,5,10,15,20,25,30,35,40,45,50,55,60,65,70,75,80,85,90,95,100], "labelExpr": "datum.value % 20 === 0 ? datum.label : ''", "labelAngle": 270, "labelAlign": "center", "labelBaseline": "middle", "labelPadding": 19, "labelOverlap": false}},
                "text": {"value": ["Wild\u00a0 Rabbit\u00a0 Lymphoid", "Cell\u00a0 Cultures"]}}}
 ]
},
{
 "width": 233, "height": 155,
 "layer": [
  {"data": {"name": "h"}, "transform": [{"filter": "datum.p === 'BL'"}],
   "mark": {"type": "line", "clip": true, "strokeWidth": 1.4},
   "encoding": {
    "x": {"field": "x", "type": "quantitative", "scale": {"domain": [-17, 1016], "nice": false, "zero": false},
          "axis": {"title": null, "format": "d", "values": [0,50,100,150,200,250,300,350,400,450,500,550,600,650,700,750,800,850,900,950,1000], "labelExpr": "datum.value === 0 || datum.value === 1000 ? datum.label : ''", "labelPadding": 3, "labelOverlap": false, "labelFlush": false}},
    "y": {"field": "y", "type": "quantitative", "scale": {"domain": [-1.2, 101.2], "nice": false, "zero": false},
          "axis": {"title": null, "format": "d", "values": [0,5,10,15,20,25,30,35,40,45,50,55,60,65,70,75,80,85,90,95,100], "labelExpr": "datum.value % 20 === 0 ? datum.label : ''", "labelAngle": 270, "labelAlign": "center", "labelBaseline": "middle", "labelPadding": 19, "labelOverlap": false}},
    "color": {"field": "s", "type": "nominal", "scale": {"domain": ["A","B","C","D","M"], "range": ["#d9304a","#3a9ad8","#3aa048","#c8c030","#1a1a1a"]}, "legend": null}
   }},
  {"data": {"values": [{}]}, "mark": {"type": "text", "fontSize": 22, "lineHeight": 28, "align": "center", "baseline": "alphabetic", "color": "#3a3a3a"},
   "encoding": {"x": {"datum": 758.9, "type": "quantitative", "axis": {"title": null, "format": "d", "values": [0,50,100,150,200,250,300,350,400,450,500,550,600,650,700,750,800,850,900,950,1000], "labelExpr": "datum.value === 0 || datum.value === 1000 ? datum.label : ''", "labelPadding": 3, "labelOverlap": false, "labelFlush": false}},
                "y": {"datum": 75.4, "type": "quantitative", "axis": {"title": null, "format": "d", "values": [0,5,10,15,20,25,30,35,40,45,50,55,60,65,70,75,80,85,90,95,100], "labelExpr": "datum.value % 20 === 0 ? datum.label : ''", "labelAngle": 270, "labelAlign": "center", "labelBaseline": "middle", "labelPadding": 19, "labelOverlap": false}},
                "text": {"value": ["Stimulated", "cultures"]}}},
  {"data": {"values": [{}]}, "mark": {"type": "text", "font": "Liberation Sans", "fontSize": 26, "angle": 270, "align": "center", "baseline": "alphabetic", "color": "#2b2b2b"},
   "encoding": {"x": {"datum": -212.1, "type": "quantitative", "axis": {"title": null, "format": "d", "values": [0,50,100,150,200,250,300,350,400,450,500,550,600,650,700,750,800,850,900,950,1000], "labelExpr": "datum.value === 0 || datum.value === 1000 ? datum.label : ''", "labelPadding": 3, "labelOverlap": false, "labelFlush": false}},
                "y": {"datum": 66.5, "type": "quantitative", "axis": {"title": null, "format": "d", "values": [0,5,10,15,20,25,30,35,40,45,50,55,60,65,70,75,80,85,90,95,100], "labelExpr": "datum.value % 20 === 0 ? datum.label : ''", "labelAngle": 270, "labelAlign": "center", "labelBaseline": "middle", "labelPadding": 19, "labelOverlap": false}},
                "text": {"value": "Number\u00a0 of\u00a0 cells"}}},
  {"data": {"values": [{}]}, "mark": {"type": "text", "font": "Liberation Sans", "fontSize": 27, "align": "left", "baseline": "alphabetic", "color": "#2b2b2b"},
   "encoding": {"x": {"datum": 36.2, "type": "quantitative", "axis": {"title": null, "format": "d", "values": [0,50,100,150,200,250,300,350,400,450,500,550,600,650,700,750,800,850,900,950,1000], "labelExpr": "datum.value === 0 || datum.value === 1000 ? datum.label : ''", "labelPadding": 3, "labelOverlap": false, "labelFlush": false}},
                "y": {"datum": -38.2, "type": "quantitative", "axis": {"title": null, "format": "d", "values": [0,5,10,15,20,25,30,35,40,45,50,55,60,65,70,75,80,85,90,95,100], "labelExpr": "datum.value % 20 === 0 ? datum.label : ''", "labelAngle": 270, "labelAlign": "center", "labelBaseline": "middle", "labelPadding": 19, "labelOverlap": false}},
                "text": {"value": "Cell\u00a0 Size"}}},
  {"data": {"values": [{}]}, "mark": {"type": "rule", "strokeWidth": 2.2, "color": "#2a2a2a"},
   "encoding": {"x": {"datum": -265.3, "type": "quantitative", "axis": {"title": null, "format": "d", "values": [0,50,100,150,200,250,300,350,400,450,500,550,600,650,700,750,800,850,900,950,1000], "labelExpr": "datum.value === 0 || datum.value === 1000 ? datum.label : ''", "labelPadding": 3, "labelOverlap": false, "labelFlush": false}},
                "y": {"datum": 230.0, "type": "quantitative", "axis": {"title": null, "format": "d", "values": [0,5,10,15,20,25,30,35,40,45,50,55,60,65,70,75,80,85,90,95,100], "labelExpr": "datum.value % 20 === 0 ? datum.label : ''", "labelAngle": 270, "labelAlign": "center", "labelBaseline": "middle", "labelPadding": 19, "labelOverlap": false}},
                "y2": {"datum": 132.2}}},
  {"data": {"values": [{}]}, "mark": {"type": "point", "shape": "M-0.75,1L0,-1L0.75,1Z", "filled": true, "size": 576, "color": "#1a1a1a", "opacity": 1},
   "encoding": {"x": {"datum": -265.3, "type": "quantitative", "axis": {"title": null, "format": "d", "values": [0,50,100,150,200,250,300,350,400,450,500,550,600,650,700,750,800,850,900,950,1000], "labelExpr": "datum.value === 0 || datum.value === 1000 ? datum.label : ''", "labelPadding": 3, "labelOverlap": false, "labelFlush": false}},
                "y": {"datum": 237.95, "type": "quantitative", "axis": {"title": null, "format": "d", "values": [0,5,10,15,20,25,30,35,40,45,50,55,60,65,70,75,80,85,90,95,100], "labelExpr": "datum.value % 20 === 0 ? datum.label : ''", "labelAngle": 270, "labelAlign": "center", "labelBaseline": "middle", "labelPadding": 19, "labelOverlap": false}}}},
  {"data": {"values": [{}]}, "mark": {"type": "rule", "strokeWidth": 2.2, "color": "#2a2a2a"},
   "encoding": {"x": {"datum": 758.9, "type": "quantitative", "axis": {"title": null, "format": "d", "values": [0,50,100,150,200,250,300,350,400,450,500,550,600,650,700,750,800,850,900,950,1000], "labelExpr": "datum.value === 0 || datum.value === 1000 ? datum.label : ''", "labelPadding": 3, "labelOverlap": false, "labelFlush": false}},
                "x2": {"datum": 2119.9},
                "y": {"datum": -27.0, "type": "quantitative", "axis": {"title": null, "format": "d", "values": [0,5,10,15,20,25,30,35,40,45,50,55,60,65,70,75,80,85,90,95,100], "labelExpr": "datum.value % 20 === 0 ? datum.label : ''", "labelAngle": 270, "labelAlign": "center", "labelBaseline": "middle", "labelPadding": 19, "labelOverlap": false}}}},
  {"data": {"values": [{}]}, "mark": {"type": "point", "shape": "M-1,-0.8L1,0L-1,0.8Z", "filled": true, "size": 484, "color": "#1a1a1a", "opacity": 1},
   "encoding": {"x": {"datum": 2146.5, "type": "quantitative", "axis": {"title": null, "format": "d", "values": [0,50,100,150,200,250,300,350,400,450,500,550,600,650,700,750,800,850,900,950,1000], "labelExpr": "datum.value === 0 || datum.value === 1000 ? datum.label : ''", "labelPadding": 3, "labelOverlap": false, "labelFlush": false}},
                "y": {"datum": -27.0, "type": "quantitative", "axis": {"title": null, "format": "d", "values": [0,5,10,15,20,25,30,35,40,45,50,55,60,65,70,75,80,85,90,95,100], "labelExpr": "datum.value % 20 === 0 ? datum.label : ''", "labelAngle": 270, "labelAlign": "center", "labelBaseline": "middle", "labelPadding": 19, "labelOverlap": false}}}}
 ]
},
{
 "width": 233, "height": 155,
 "layer": [
  {"data": {"name": "h"}, "transform": [{"filter": "datum.p === 'BR'"}],
   "mark": {"type": "line", "clip": true, "strokeWidth": 1.4},
   "encoding": {
    "x": {"field": "x", "type": "quantitative", "scale": {"domain": [-17, 1016], "nice": false, "zero": false},
          "axis": {"title": null, "format": "d", "values": [0,50,100,150,200,250,300,350,400,450,500,550,600,650,700,750,800,850,900,950,1000], "labelExpr": "datum.value === 0 || datum.value === 1000 ? datum.label : ''", "labelPadding": 3, "labelOverlap": false, "labelFlush": false}},
    "y": {"field": "y", "type": "quantitative", "scale": {"domain": [-1.2, 101.2], "nice": false, "zero": false},
          "axis": {"title": null, "format": "d", "values": [0,5,10,15,20,25,30,35,40,45,50,55,60,65,70,75,80,85,90,95,100], "labelExpr": "datum.value % 20 === 0 ? datum.label : ''", "labelAngle": 270, "labelAlign": "center", "labelBaseline": "middle", "labelPadding": 19, "labelOverlap": false}},
    "color": {"field": "s", "type": "nominal", "scale": {"domain": ["A","B","C","D","M"], "range": ["#d9304a","#3a9ad8","#3aa048","#c8c030","#1a1a1a"]}, "legend": null}
   }},
  {"data": {"values": [{}]}, "mark": {"type": "text", "fontSize": 22, "lineHeight": 28, "align": "center", "baseline": "alphabetic", "color": "#3a3a3a"},
   "encoding": {"x": {"datum": 721.2, "type": "quantitative", "axis": {"title": null, "format": "d", "values": [0,50,100,150,200,250,300,350,400,450,500,550,600,650,700,750,800,850,900,950,1000], "labelExpr": "datum.value === 0 || datum.value === 1000 ? datum.label : ''", "labelPadding": 3, "labelOverlap": false, "labelFlush": false}},
                "y": {"datum": 76.1, "type": "quantitative", "axis": {"title": null, "format": "d", "values": [0,5,10,15,20,25,30,35,40,45,50,55,60,65,70,75,80,85,90,95,100], "labelExpr": "datum.value % 20 === 0 ? datum.label : ''", "labelAngle": 270, "labelAlign": "center", "labelBaseline": "middle", "labelPadding": 19, "labelOverlap": false}},
                "text": {"value": ["Stimulated", "cultures"]}}}
 ]
},
{
 "width": 233, "height": 912,
 "view": {"stroke": null},
 "layer": [
  {"data": {"values": [{}]}, "mark": {"type": "rule", "color": "#3f7a48", "strokeWidth": 2.2},
   "encoding": {"x": {"datum": -0.114, "type": "quantitative", "scale": {"domain": [0.5546, 2.1432], "nice": false, "zero": false}, "axis": null}, "x2": {"datum": 5.45},
                "y": {"datum": -2.493, "type": "quantitative", "scale": {"domain": [-2.879, 9.249], "nice": false, "zero": false, "reverse": true}, "axis": null}}},
  {"data": {"values": [{}]}, "mark": {"type": "rule", "color": "#5e9466", "strokeWidth": 1.6},
   "encoding": {"x": {"datum": 1.489, "type": "quantitative", "axis": null}, "x2": {"datum": 5.45}, "y": {"datum": -1.43, "type": "quantitative", "axis": null}}},
  {"data": {"values": [{}]}, "mark": {"type": "rule", "color": "#5e9466", "strokeWidth": 1.6},
   "encoding": {"x": {"datum": -0.0795, "type": "quantitative", "axis": null}, "x2": {"datum": 5.45}, "y": {"datum": -0.392, "type": "quantitative", "axis": null}}},
  {"data": {"values": [{}]}, "mark": {"type": "rule", "color": "#c5cfbf", "strokeWidth": 1.6},
   "encoding": {"x": {"datum": -0.0795, "type": "quantitative", "axis": null}, "x2": {"datum": 5.45}, "y": {"datum": 4.634, "type": "quantitative", "axis": null}}},
  {"data": {"name": "hd"}, "mark": {"type": "text", "fontWeight": "bold", "fontSize": 22.5, "lineHeight": 26, "lineBreak": "\n", "align": "center", "baseline": "alphabetic", "dx": 73, "dy": -16},
   "encoding": {"x": {"field": "c", "type": "quantitative", "axis": null}, "y": {"field": "r", "type": "quantitative", "axis": null}, "text": {"field": "t"}}},
  {"data": {"name": "sh"}, "mark": {"type": "text", "fontSize": 22, "lineHeight": 26, "lineBreak": "\n", "align": "center", "baseline": "alphabetic", "dy": -11.3, "color": "#3a3a3a"},
   "encoding": {"x": {"field": "c", "type": "quantitative", "axis": null}, "y": {"field": "r", "type": "quantitative", "axis": null}, "text": {"field": "t"}}},
  {"data": {"name": "tg"}, "mark": {"type": "text", "fontWeight": "bold", "fontSize": 22, "lineHeight": 25, "lineBreak": "\n", "align": "center", "baseline": "alphabetic", "dx": 48, "dy": -6.5},
   "encoding": {"x": {"field": "c", "type": "quantitative", "axis": null}, "y": {"field": "r", "type": "quantitative", "axis": null}, "text": {"field": "t"}}},
  {"data": {"name": "tl"}, "mark": {"type": "text", "fontSize": 22, "lineHeight": 25, "lineBreak": "\n", "align": "center", "baseline": "alphabetic", "dx": 18, "dy": -6.5, "color": "#3a3a3a"},
   "encoding": {"x": {"field": "c", "type": "quantitative", "axis": null}, "y": {"field": "r", "type": "quantitative", "axis": null}, "text": {"field": "t"}}},
  {"data": {"name": "tv"}, "transform": [{"filter": "datum.em === 0"}], "mark": {"type": "text", "fontSize": 28, "align": "center", "baseline": "alphabetic", "color": "#333333"},
   "encoding": {"x": {"field": "c", "type": "quantitative", "axis": null}, "y": {"field": "r", "type": "quantitative", "axis": null}, "text": {"field": "v"}}},
  {"data": {"name": "tv"}, "transform": [{"filter": "datum.em === 1"}], "mark": {"type": "text", "fontSize": 28, "fontWeight": "bold", "align": "center", "baseline": "alphabetic", "color": "#222222"},
   "encoding": {"x": {"field": "c", "type": "quantitative", "axis": null}, "y": {"field": "r", "type": "quantitative", "axis": null}, "text": {"field": "v"}}},
  {"data": {"values": [{}]}, "mark": {"type": "text", "fontSize": 68, "fontWeight": "bold", "align": "center", "baseline": "alphabetic", "color": "#1a1a1a"},
   "encoding": {"x": {"datum": -0.3317, "type": "quantitative", "axis": null}, "y": {"datum": -2.081, "type": "quantitative", "axis": null}, "text": {"value": "B"}}}
 ]
}
]
}
